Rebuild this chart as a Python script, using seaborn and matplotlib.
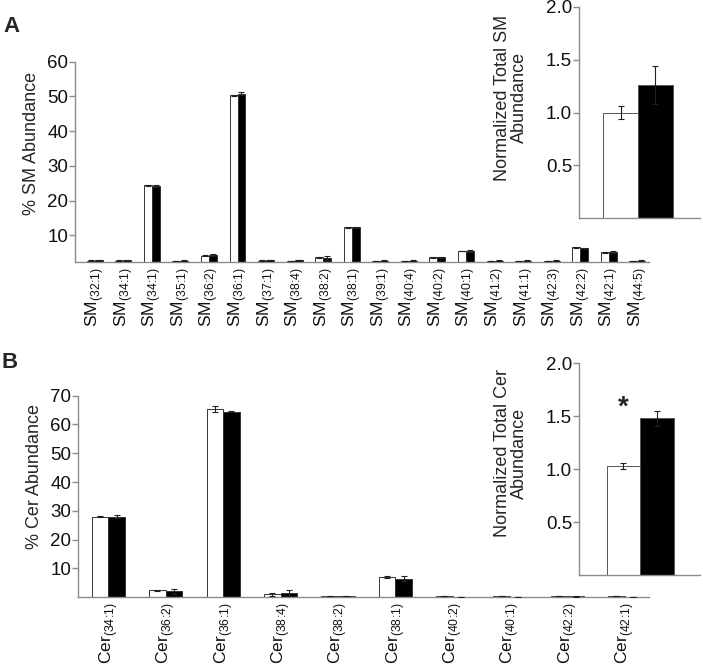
import matplotlib
matplotlib.use("Agg")
import matplotlib.pyplot as plt
import seaborn as sns
import pandas as pd

# SM species (panel A)
sm_species = ['32:1', '34:1', '34:1', '35:1', '36:2', '36:1', '37:1', '38:4', '38:2', '38:1',
              '39:1', '40:4', '40:2', '40:1', '41:2', '41:1', '42:3', '42:2', '42:1', '44:5']
sm_ctrl = [2.7, 2.7, 24.4, 2.6, 4.1, 50.3, 2.7, 2.6, 3.6, 12.3,
           2.6, 2.6, 3.6, 5.5, 2.6, 2.6, 2.6, 6.5, 5.1, 2.6]
sm_treat = [2.8, 2.8, 24.2, 2.7, 4.3, 50.8, 2.9, 2.9, 3.4, 12.3,
            2.7, 2.7, 3.6, 5.5, 2.7, 2.7, 2.7, 6.2, 5.2, 2.7]
sm_ctrl_err = [0.1, 0.1, 0.2, 0.1, 0.2, 0.2, 0.1, 0.1, 0.2, 0.2,
               0.05, 0.05, 0.1, 0.1, 0.05, 0.05, 0.05, 0.2, 0.2, 0.05]
sm_treat_err = [0.1, 0.1, 0.4, 0.1, 0.2, 0.4, 0.1, 0.1, 0.5, 0.2,
                0.05, 0.05, 0.2, 0.2, 0.05, 0.05, 0.05, 0.2, 0.2, 0.05]
sm_total = [1.0, 1.26]
sm_total_err = [0.06, 0.18]

# Cer species (panel B)
cer_species = ['34:1', '36:2', '36:1', '38:4', '38:2', '38:1', '40:2', '40:1', '42:2', '42:1']
cer_ctrl = [28.0, 2.3, 65.3, 0.9, 0.3, 7.0, 0.3, 0.3, 0.3, 0.3]
cer_treat = [28.0, 2.0, 64.5, 1.5, 0.3, 6.4, 0.1, 0.1, 0.2, 0.1]
cer_ctrl_err = [0.3, 0.3, 1.0, 0.6, 0.1, 0.3, 0.05, 0.05, 0.05, 0.05]
cer_treat_err = [0.6, 0.8, 0.3, 1.0, 0.1, 0.8, 0.05, 0.05, 0.05, 0.05]
cer_total = [1.03, 1.48]
cer_total_err = [0.03, 0.07]

groups = ['ctrl', 'treat']
colors = {'ctrl': 'white', 'treat': 'black'}

sns.set_style("ticks")
plt.rcParams['font.family'] = ['Liberation Sans', 'DejaVu Sans']
plt.rcParams['mathtext.fontset'] = 'custom'
plt.rcParams['mathtext.rm'] = 'Liberation Sans'

SPINE = '#8c8c8c'
TICK_FS = 13.5
LABEL_FS = 13


def style_axes(ax):
    sns.despine(ax=ax)
    for s in ['left', 'bottom']:
        ax.spines[s].set_color(SPINE)
        ax.spines[s].set_linewidth(1.0)
    ax.set_facecolor('none')
    ax.tick_params(axis='y', colors=SPINE, labelcolor='#111111', length=4, width=1,
                   labelsize=TICK_FS, pad=1)
    ax.tick_params(axis='x', length=0, labelcolor='#111111')


def draw_errors(ax, errs):
    for cont, err in zip(ax.containers, errs):
        xs = [b.get_x() + b.get_width() / 2 for b in cont]
        ys = [b.get_y() + b.get_height() for b in cont]
        ax.errorbar(xs, ys, yerr=err, fmt='none', ecolor='#202020',
                    elinewidth=0.8, capsize=2.5, capthick=0.8, zorder=3)


def sub_label(prefix, s):
    a, b = s.split(':')
    return prefix + r'$_{\mathregular{(' + a + r'\!:\!' + b + ')}}$'


def species_panel(ax, species, ctrl, treat, ctrl_err, treat_err, prefix, width, label_fs):
    n = len(species)
    df = pd.DataFrame({
        'pos': list(range(n)) * 2,
        'value': ctrl + treat,
        'group': ['ctrl'] * n + ['treat'] * n,
    })
    sns.barplot(data=df, x='pos', y='value', hue='group', hue_order=groups,
                palette=colors, width=width, gap=0, errorbar=None,
                edgecolor='#333333', linewidth=0.7, legend=False, ax=ax)
    draw_errors(ax, [ctrl_err, treat_err])
    ax.set_xticks(range(n))
    ax.set_xticklabels([sub_label(prefix, s) for s in species],
                       rotation=90, fontsize=label_fs)
    ax.set_xlabel('')
    style_axes(ax)


def total_panel(ax, vals, errs, ylabel, xlim):
    df = pd.DataFrame({'group': groups, 'value': vals})
    sns.barplot(data=df, x='group', y='value', hue='group', hue_order=groups,
                palette=colors, width=1.0, errorbar=None,
                edgecolor='#555555', linewidth=0.7, legend=False, ax=ax)
    draw_errors(ax, [[errs[0]], [errs[1]]])
    ax.set_xlim(*xlim)
    ax.set_ylim(0, 2.0)
    ax.set_yticks([0.5, 1.0, 1.5, 2.0])
    ax.set_yticklabels(['0.5', '1.0', '1.5', '2.0'])
    ax.set_xticks([])
    ax.set_xlabel('')
    ax.set_ylabel(ylabel, fontsize=LABEL_FS, linespacing=1.05)
    style_axes(ax)


fig = plt.figure(figsize=(7.03, 6.67), dpi=100)

# Panel A
axA = fig.add_axes([0.1067, 0.6077, 0.8165, 0.2999])
species_panel(axA, sm_species, sm_ctrl, sm_treat, sm_ctrl_err, sm_treat_err,
              'SM', 0.56, 12.5)
axA.set_xlim(-0.69, 19.41)
axA.set_ylim(2.4, 60)
axA.set_yticks([10, 20, 30, 40, 50, 60])
axA.set_ylabel('% SM Abundance', fontsize=LABEL_FS)
axA.yaxis.set_label_coords(-0.061, 0.59)

insA = fig.add_axes([0.8236, 0.6727, 0.1721, 0.3172])
total_panel(insA, sm_total, sm_total_err, 'Normalized Total SM\nAbundance', (-1.2, 2.29))
insA.yaxis.set_label_coords(-0.42, 0.57)

# Panel B
axB = fig.add_axes([0.111, 0.1049, 0.8127, 0.3018])
species_panel(axB, cer_species, cer_ctrl, cer_treat, cer_ctrl_err, cer_treat_err,
              'Cer', 0.58, 12.5)
axB.set_xlim(-0.53, 9.43)
axB.set_ylim(0, 70)
axB.set_yticks([10, 20, 30, 40, 50, 60, 70])
axB.set_ylabel('% Cer Abundance', fontsize=LABEL_FS)
axB.yaxis.set_label_coords(-0.062, 0.60)

insB = fig.add_axes([0.8236, 0.1379, 0.1721, 0.3174])
total_panel(insB, cer_total, cer_total_err, 'Normalized Total Cer\nAbundance', (-1.33, 2.29))
insB.yaxis.set_label_coords(-0.42, 0.576)
insB.text(0, 1.58, '*', ha='center', va='center', fontsize=20, fontweight='bold')

fig.text(0.017, 0.961, 'A', fontsize=16, fontweight='bold', ha='center', va='center')
fig.text(0.014, 0.456, 'B', fontsize=16, fontweight='bold', ha='center', va='center')

fig.savefig('out.png', dpi=100)
